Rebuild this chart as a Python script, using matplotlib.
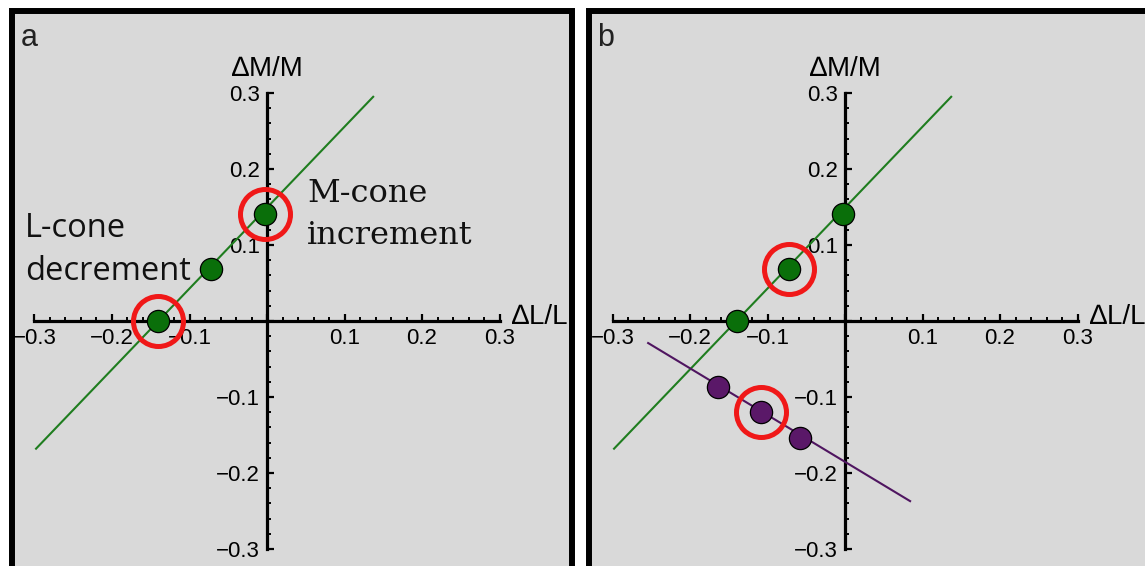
import numpy as np
import matplotlib
matplotlib.use("Agg")
import matplotlib.pyplot as plt
from matplotlib.patches import Rectangle

# --------------------------------------------------
# DATA
# --------------------------------------------------
tick_vals   = [-0.3, -0.2, -0.1, 0.0, 0.1, 0.2, 0.3]
tick_labels = ["\u22120.3", "\u22120.2", "\u22120.1", "", "0.1", "0.2", "0.3"]

green_x = [-0.14, -0.072, -0.002]
green_y = [0.0, 0.069, 0.141]
green_line_x = [-0.298, 0.137]
green_line_y = [-0.168, 0.295]

purple_x = [-0.164, -0.108, -0.058]
purple_y = [-0.087, -0.120, -0.154]
purple_line_x = [-0.254, 0.084]
purple_line_y = [-0.029, -0.237]

circled_a_green  = [0, 2]   # L-cone decrement, M-cone increment
circled_b_green  = [1]
circled_b_purple = [1]

# --------------------------------------------------
# STYLE
# --------------------------------------------------
W, H = 1145, 566
BG       = "#d9d9d9"
GREEN    = "#0a6f0a"
GREEN_L  = "#1f7d1f"
PURPLE   = "#5a1868"
PURPLE_L = "#4f1560"
RED      = "#f01818"
SANS     = "Liberation Sans"

PX_X = 775.0   # pixels per data unit
PX_Y = 760.0


def add_panel(left_px, right_px, origin_x_px, origin_y_px=321, top_px=14):
    ax = plt.gcf().add_axes([left_px / W, 0, (right_px - left_px) / W, (H - top_px) / H])
    ax.set_xlim((left_px - origin_x_px) / PX_X, (right_px - origin_x_px) / PX_X)
    ax.set_ylim((origin_y_px - H) / PX_Y, (origin_y_px - top_px) / PX_Y)
    ax.set_facecolor(BG)

    for s in ["top", "right"]:
        ax.spines[s].set_visible(False)
    for s in ["left", "bottom"]:
        ax.spines[s].set_position(("data", 0))
        ax.spines[s].set_bounds(-0.3, 0.3)
        ax.spines[s].set_linewidth(2.3)
        ax.spines[s].set_zorder(2)

    ax.set_xticks(tick_vals)
    ax.set_xticklabels(tick_labels)
    ax.set_yticks(tick_vals)
    ax.set_yticklabels(tick_labels)
    minor = [v for v in np.round(np.arange(-0.3, 0.301, 0.02), 2) if round(v * 10, 6) % 1 != 0]
    ax.set_xticks(minor, minor=True)
    ax.set_yticks(minor, minor=True)
    ax.tick_params(which="major", direction="in", length=5, width=1.6, pad=5,
                   labelsize=16, labelfontfamily=SANS, colors="black")
    ax.tick_params(which="minor", direction="in", length=3, width=1.4)

    ax.text(0.0, 0.331, "\u2206M/M", ha="center", va="center", fontsize=20, family=SANS)
    ax.text(0.316, 0.005, "\u2206L/L", ha="left", va="center", fontsize=20, family=SANS)
    return ax


def circle_points(ax, xs, ys, idx):
    ax.plot([xs[i] for i in idx], [ys[i] for i in idx], "o", ms=36, mfc="none",
            mec=RED, mew=3.6, zorder=5)


fig = plt.figure(figsize=(W / 100, H / 100), dpi=100)
fig.patch.set_facecolor("white")

# --------------------------------------------------
# PANEL a
# --------------------------------------------------
ax_a = add_panel(15, 570, 267)
ax_a.plot(green_line_x, green_line_y, color=GREEN_L, lw=1.5, zorder=3)
ax_a.plot(green_x, green_y, "o", ms=16, mfc=GREEN, mec="black", mew=0.9, zorder=4)
circle_points(ax_a, green_x, green_y, circled_a_green)

txt_kw = dict(ha="left", va="baseline", color="#111111")
ax_a.text(-0.3123, 0.1105, "L-cone", fontsize=23.5, family="Open Sans", **txt_kw)
ax_a.text(-0.3123, 0.054, "decrement", fontsize=23.5, family="Open Sans", **txt_kw)
ax_a.text(0.0516, 0.1566, "M-cone", fontsize=23, family="DejaVu Serif", **txt_kw)
ax_a.text(0.0516, 0.1013, "increment", fontsize=23, family="DejaVu Serif", **txt_kw)

# --------------------------------------------------
# PANEL b
# --------------------------------------------------
ax_b = add_panel(592, W, 845)
ax_b.plot(green_line_x, green_line_y, color=GREEN_L, lw=1.5, zorder=3)
ax_b.plot(purple_line_x, purple_line_y, color=PURPLE_L, lw=1.5, zorder=3)
ax_b.plot(green_x, green_y, "o", ms=16, mfc=GREEN, mec="black", mew=0.9, zorder=4)
ax_b.plot(purple_x, purple_y, "o", ms=16, mfc=PURPLE, mec="black", mew=0.9, zorder=4)
circle_points(ax_b, green_x, green_y, circled_b_green)
circle_points(ax_b, purple_x, purple_y, circled_b_purple)

# panel letters + black frames
fig.text(21 / W, 1 - 46 / H, "a", fontsize=22, family=SANS, color="#222222")
fig.text(597 / W, 1 - 46 / H, "b", fontsize=22, family=SANS, color="#222222")
fig.patches.append(Rectangle((12 / W, -0.05), 560 / W, 1.05 - 11.5 / H,
                             transform=fig.transFigure, fill=False, ec="black", lw=4.3))
fig.patches.append(Rectangle((589.5 / W, -0.05), 600 / W, 1.05 - 11.5 / H,
                             transform=fig.transFigure, fill=False, ec="black", lw=4.3))

fig.savefig("out.png", dpi=100)
